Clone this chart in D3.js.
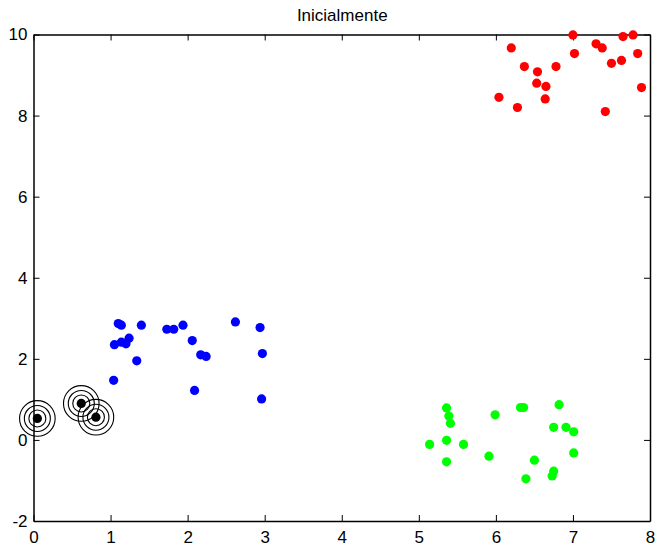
<!DOCTYPE html>
<html>
<head>
<meta charset="utf-8">
<script src="https://cdn.jsdelivr.net/npm/d3@7"></script>
<style>
  html, body { margin: 0; padding: 0; background: #fff; }
  svg { display: block; font-family: "Liberation Sans", Arial, sans-serif; }
</style>
</head>
<body>
<svg id="chart" width="657" height="549"></svg>
<script>
// Cluster samples (x, y)
const redX = [7.00, 6.20, 6.37, 6.54, 6.53, 6.65, 6.78, 6.64, 6.04, 6.28, 7.02, 7.30, 7.38, 7.50, 7.63, 7.65, 7.78, 7.84, 7.89, 7.42];
const redY = [9.99, 9.67, 9.21, 9.08, 8.80, 8.72, 9.21, 8.41, 8.45, 8.20, 9.53, 9.77, 9.67, 9.29, 9.36, 9.95, 9.99, 9.53, 8.69, 8.10];

const blueX = [1.10, 1.14, 1.40, 1.05, 1.14, 1.20, 1.24, 1.34, 1.04, 1.73, 1.82, 1.94, 2.06, 2.17, 2.24, 2.09, 2.62, 2.94, 2.97, 2.96];
const blueY = [2.87, 2.83, 2.83, 2.35, 2.41, 2.37, 2.51, 1.95, 1.47, 2.73, 2.73, 2.83, 2.45, 2.10, 2.06, 1.22, 2.91, 2.77, 2.13, 1.01];

const greenX = [5.36, 5.39, 5.41, 5.14, 5.36, 5.58, 5.36, 5.99, 5.91, 6.32, 6.36, 6.82, 6.75, 6.91, 7.01, 7.01, 6.50, 6.39, 6.75, 6.73];
const greenY = [0.79, 0.59, 0.41, -0.11, -0.01, -0.11, -0.54, 0.62, -0.40, 0.80, 0.80, 0.87, 0.31, 0.31, 0.20, -0.32, -0.50, -0.96, -0.77, -0.89];

// Initial centroids
const centerX = [0.05, 0.62, 0.81];
const centerY = [0.53, 0.90, 0.56];

const xTicks = [0, 1, 2, 3, 4, 5, 6, 7, 8];
const yTicks = [-2, 0, 2, 4, 6, 8, 10];
const titleText = "Inicialmente";

const svg = d3.select("#chart");
const plotLeft = 33.5, plotRight = 650, plotTop = 34.5, plotBottom = 521;

const x = d3.scaleLinear().domain([0, 8]).range([plotLeft, plotRight]);
const y = d3.scaleLinear().domain([-2, 10]).range([plotBottom, plotTop]);

const fontSize = 17;
const plainNumber = d => String(d);   // hyphen-minus, as the plot labels use

function styleAxis(g) {
  g.selectAll(".domain").attr("stroke", "#000").attr("stroke-width", 1.5);
  g.selectAll(".tick line").attr("stroke", "#000").attr("stroke-width", 1);
  g.selectAll(".tick text").attr("fill", "#000").attr("font-size", fontSize)
    .attr("font-family", "Liberation Sans, Arial, sans-serif");
}

// Bottom axis with labels, ticks pointing inward
svg.append("g")
  .attr("transform", `translate(0,${plotBottom})`)
  .call(d3.axisBottom(x).tickValues(xTicks).tickFormat(plainNumber).tickSize(-6).tickSizeOuter(0).tickPadding(10))
  .call(styleAxis);

// Top axis, ticks only
svg.append("g")
  .attr("transform", `translate(0,${plotTop})`)
  .call(d3.axisTop(x).tickValues(xTicks).tickFormat("").tickSize(-6).tickSizeOuter(0))
  .call(styleAxis);

// Left axis with labels
svg.append("g")
  .attr("transform", `translate(${plotLeft},0)`)
  .call(d3.axisLeft(y).tickValues(yTicks).tickFormat(plainNumber).tickSize(-6).tickSizeOuter(0).tickPadding(6))
  .call(styleAxis);

// Right axis, ticks only
svg.append("g")
  .attr("transform", `translate(${plotRight},0)`)
  .call(d3.axisRight(y).tickValues(yTicks).tickFormat("").tickSize(-6).tickSizeOuter(0))
  .call(styleAxis);

// Title
svg.append("text")
  .attr("x", (plotLeft + plotRight) / 2 + 0.5)
  .attr("y", 21)
  .attr("text-anchor", "middle")
  .attr("font-size", fontSize)
  .attr("fill", "#000")
  .text(titleText);

function drawCluster(xs, ys, color) {
  svg.append("g")
    .selectAll("circle")
    .data(xs.map((v, i) => [v, ys[i]]))
    .join("circle")
    .attr("cx", d => x(d[0]))
    .attr("cy", d => y(d[1]))
    .attr("r", 4.6)
    .attr("fill", color);
}

drawCluster(redX, redY, "#ff0000");
drawCluster(blueX, blueY, "#0000ff");
drawCluster(greenX, greenY, "#00ff00");

// Centroids: filled dot surrounded by concentric rings
const centers = centerX.map((v, i) => [v, centerY[i]]);
const ringRadii = [8.5, 13, 17.8];
const cg = svg.append("g");
centers.forEach(c => {
  ringRadii.forEach(r => {
    cg.append("circle")
      .attr("cx", x(c[0])).attr("cy", y(c[1]))
      .attr("r", r)
      .attr("fill", "none")
      .attr("stroke", "#000")
      .attr("stroke-width", 1.1);
  });
  cg.append("circle")
    .attr("cx", x(c[0])).attr("cy", y(c[1]))
    .attr("r", 4.6)
    .attr("fill", "#000");
});
</script>
</body>
</html>
